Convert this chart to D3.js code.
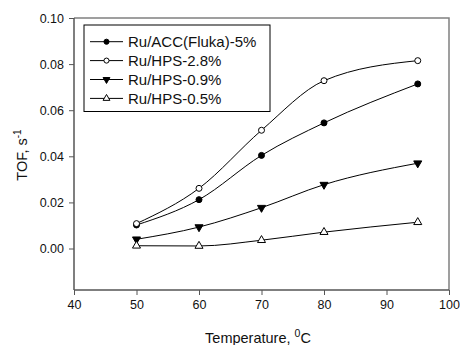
<!DOCTYPE html>
<html>
<head>
<meta charset="utf-8">
<script src="https://cdn.jsdelivr.net/npm/d3@7"></script>
<style>
  body { margin: 0; background: #fff; }
  svg { font-family: Arial, "Liberation Sans", sans-serif; }
</style>
</head>
<body>
<svg id="chart" width="460" height="345"></svg>
<script>
// temperatures (°C)
const temps = [50, 60, 70, 80, 95];

// TOF values, s^-1
const acc5 = [0.0102, 0.0212, 0.0404, 0.0545, 0.0714];
const hps28 = [0.0108, 0.0261, 0.0513, 0.0728, 0.0815];
const hps09 = [0.0040, 0.0093, 0.0177, 0.0277, 0.0370];
const hps05 = [0.0012, 0.0011, 0.0036, 0.0071, 0.0114];

const seriesNames = ['Ru/ACC(Fluka)-5%', 'Ru/HPS-2.8%', 'Ru/HPS-0.9%', 'Ru/HPS-0.5%'];
const xTicks = [40, 50, 60, 70, 80, 90, 100];
const yTicks = [0, 0.02, 0.04, 0.06, 0.08, 0.10];

const series = [
  { name: seriesNames[0], values: acc5, marker: 'circle', fill: '#000' },
  { name: seriesNames[1], values: hps28, marker: 'circle', fill: '#fff' },
  { name: seriesNames[2], values: hps09, marker: 'down', fill: '#000' },
  { name: seriesNames[3], values: hps05, marker: 'up', fill: '#fff' },
];

const svg = d3.select('#chart');
const plotL = 74, plotR = 449, plotT = 18, plotB = 290;

const x = d3.scaleLinear().domain([40, 100]).range([plotL, plotR]);
const y = d3.scaleLinear().domain([-0.018, 0.10]).range([plotB, plotT]);

// frame (top & right)
svg.append('path')
  .attr('d', `M${plotL},${plotT}H${plotR}V${plotB}`)
  .attr('fill', 'none')
  .attr('stroke', '#808080')
  .attr('stroke-width', 1.5);

const xAxis = svg.append('g')
  .attr('transform', `translate(0,${plotB})`)
  .call(d3.axisBottom(x).tickValues(xTicks).tickSize(5).tickPadding(5).tickFormat(d3.format('d')));

const yAxis = svg.append('g')
  .attr('transform', `translate(${plotL},0)`)
  .call(d3.axisLeft(y).tickValues(yTicks).tickSize(5).tickPadding(5).tickFormat(d3.format('.2f')));

[xAxis, yAxis].forEach(g => {
  g.select('.domain').attr('stroke', '#555').attr('stroke-width', 1.5);
  g.selectAll('.tick line').attr('stroke', '#555').attr('stroke-width', 1);
  g.selectAll('.tick text').attr('font-size', 12.5).attr('fill', '#111')
    .attr('font-family', 'Arial, "Liberation Sans", sans-serif');
});
yAxis.select('.domain').attr('d', `M0,${plotT}V${plotB}`);
xAxis.select('.domain').attr('d', `M${plotL},0H${plotR}`);

const line = d3.line()
  .x((d, i) => x(temps[i]))
  .y(d => y(d))
  .curve(d3.curveMonotoneX);

function drawMarker(g, type, fill, cx, cy, scale) {
  if (type === 'circle') {
    g.append('circle').attr('cx', cx).attr('cy', cy).attr('r', 3 * scale)
      .attr('fill', fill).attr('stroke', '#000').attr('stroke-width', 1);
  } else {
    g.append('path')
      .attr('d', d3.symbol().type(d3.symbolTriangle).size(28 * scale * scale)())
      .attr('transform', `translate(${cx},${cy})` + (type === 'down' ? ' rotate(180)' : ''))
      .attr('fill', fill).attr('stroke', '#000').attr('stroke-width', 1);
  }
}

series.forEach(s => {
  svg.append('path')
    .datum(s.values)
    .attr('d', line)
    .attr('fill', 'none')
    .attr('stroke', '#000')
    .attr('stroke-width', 1);
});
series.forEach(s => {
  const g = svg.append('g');
  s.values.forEach((v, i) => drawMarker(g, s.marker, s.fill, x(temps[i]), y(v), 1));
});

// legend
const legend = svg.append('g');
legend.append('rect')
  .attr('x', 84).attr('y', 25).attr('width', 186).attr('height', 86.5)
  .attr('fill', '#fff').attr('stroke', '#000').attr('stroke-width', 1);
series.forEach((s, i) => {
  const ly = 41.7 + i * 18.9;
  legend.append('line').attr('x1', 90).attr('x2', 123).attr('y1', ly).attr('y2', ly)
    .attr('stroke', '#000').attr('stroke-width', 1);
  drawMarker(legend, s.marker, s.fill, 106.5, ly, 0.85);
  legend.append('text').attr('x', 128).attr('y', ly + 5.3)
    .attr('font-size', 15).attr('fill', '#111').text(s.name);
});

// axis titles
const yt = svg.append('text')
  .attr('transform', 'translate(27,155) rotate(-90)')
  .attr('text-anchor', 'middle')
  .attr('font-size', 14.5).attr('fill', '#111');
yt.append('tspan').text('TOF, s');
yt.append('tspan').attr('dy', -6).attr('font-size', 10).text('-1');

const xt = svg.append('text')
  .attr('x', 258).attr('y', 343)
  .attr('text-anchor', 'middle')
  .attr('font-size', 14.5).attr('fill', '#111');
xt.append('tspan').text('Temperature, ');
xt.append('tspan').attr('dy', -6).attr('font-size', 10.5).text('0');
xt.append('tspan').attr('dy', 6).text('C');
</script>
</body>
</html>
